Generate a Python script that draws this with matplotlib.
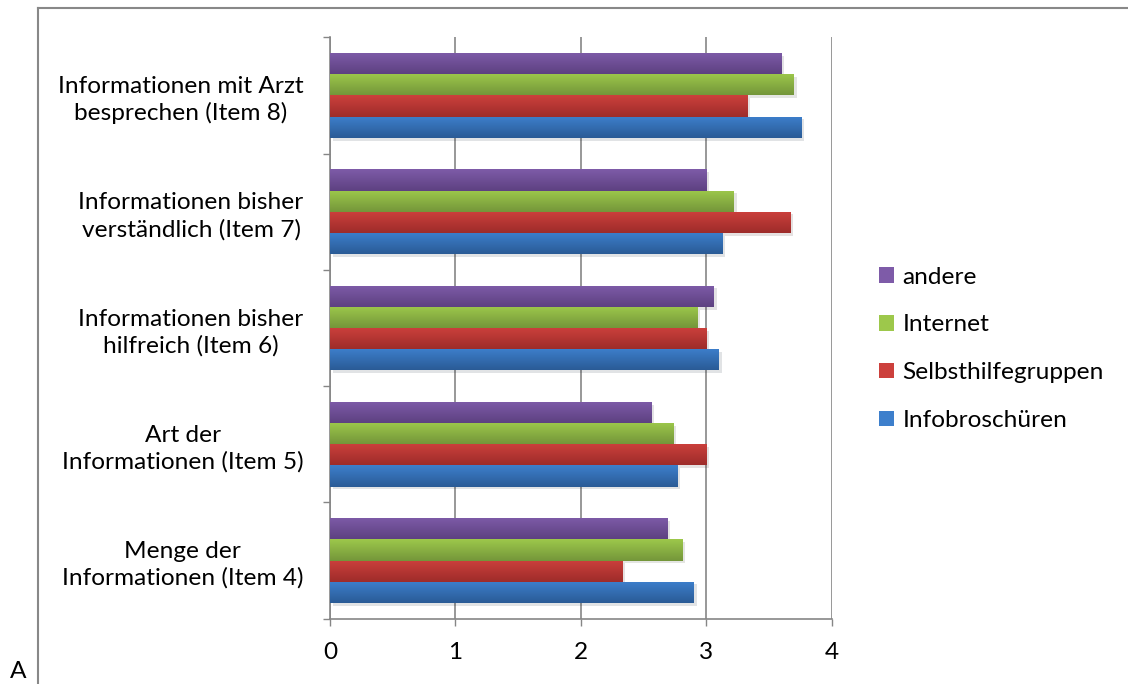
import numpy as np
import matplotlib
matplotlib.use("Agg")
import matplotlib.pyplot as plt
from matplotlib.colors import LinearSegmentedColormap
from matplotlib.lines import Line2D
import matplotlib.patheffects as pe

plt.rcParams['font.family'] = ['Lato', 'DejaVu Sans']

items = ['Menge der\nInformationen (Item 4)',
         'Art der\nInformationen (Item 5)',
         'Informationen bisher\nhilfreich (Item 6)',
         'Informationen bisher\nverständlich (Item 7)',
         'Informationen mit Arzt\nbesprechen (Item 8)']

series = ['Infobroschüren', 'Selbsthilfegruppen', 'Internet', 'andere']
infobroschueren = [2.90, 2.77, 3.10, 3.13, 3.76]
selbsthilfe = [2.33, 3.00, 3.00, 3.67, 3.33]
internet = [2.81, 2.74, 2.93, 3.22, 3.70]
andere = [2.69, 2.56, 3.06, 3.00, 3.60]
values = [infobroschueren, selbsthilfe, internet, andere]

# (top colour, bottom colour) for the excel-ish gradient
colors = [('#3d7fcc', '#2a5b96'),
          ('#cc403c', '#9e2c2a'),
          ('#9dc84b', '#74963a'),
          ('#7e5ba8', '#5d4181')]

fs = 17.6

fig = plt.figure(figsize=(11.28, 6.84), dpi=100)
ax = fig.add_axes([0.2926, 0.0955, 0.4447, 0.85])

h = 0.182
y = np.arange(len(items))
grad = np.linspace(0, 1, 64).reshape(-1, 1)
for i, (vals, (c1, c2)) in enumerate(zip(values, colors)):
    off = (i - 1.5) * h
    bars = ax.barh(y + off, vals, height=h, color=c2, zorder=2,
                   path_effects=[pe.SimplePatchShadow(offset=(2, -2), alpha=0.12), pe.Normal()])
    cmap = LinearSegmentedColormap.from_list('g%d' % i, [c1, c2])
    for b in bars:
        x0, y0, w, bh = b.get_x(), b.get_y(), b.get_width(), b.get_height()
        im = ax.imshow(grad, cmap=cmap, aspect='auto', origin='lower',
                       extent=[x0, x0 + w, y0 + bh, y0], zorder=3,
                       interpolation='bilinear')
        im.set_clip_path(b)

ax.set_xlim(0, 4)
ax.set_ylim(-0.5, len(items) - 0.5)
ax.set_xticks([0, 1, 2, 3, 4])
ax.set_xticklabels(['0', '1', '2', '3', '4'], fontsize=fs)
ax.set_yticks(y)
ax.set_yticklabels(items, fontsize=fs, multialignment='center', linespacing=1.3)
ax.set_yticks(np.arange(-0.5, len(items)), minor=True)
ax.tick_params(axis='y', which='major', length=0, pad=19)
ax.tick_params(axis='y', which='minor', length=5, color='#868686', width=1)
ax.tick_params(axis='x', length=5, color='#868686', width=1, pad=12)
ax.grid(axis='x', color='#868686', linewidth=1.2, zorder=0)
ax.set_axisbelow(True)
for s in ['top', 'right']:
    ax.spines[s].set_visible(False)
for s in ['left', 'bottom']:
    ax.spines[s].set_color('#868686')
    ax.spines[s].set_linewidth(1.2)

handles = [plt.Rectangle((0, 0), 1, 1, facecolor=c[0]) for c in colors]
fig.legend(handles[::-1], series[::-1], loc='center left',
           bbox_to_anchor=(0.771, 0.490), frameon=False, fontsize=fs,
           handlelength=0.6, handleheight=0.6, handletextpad=0.35,
           labelspacing=1.1, borderaxespad=0)

# outer chart frame (cut at right and bottom)
fig.add_artist(Line2D([38 / 1128, 38 / 1128], [0, 1 - 8 / 684],
                      transform=fig.transFigure, color='#888888', lw=1.5))
fig.add_artist(Line2D([38 / 1128, 1], [1 - 8 / 684, 1 - 8 / 684],
                      transform=fig.transFigure, color='#888888', lw=1.5))
fig.text(10 / 1128, 2 / 684, 'A', fontsize=fs, va='bottom', ha='left')

fig.savefig('out.png', dpi=100)
